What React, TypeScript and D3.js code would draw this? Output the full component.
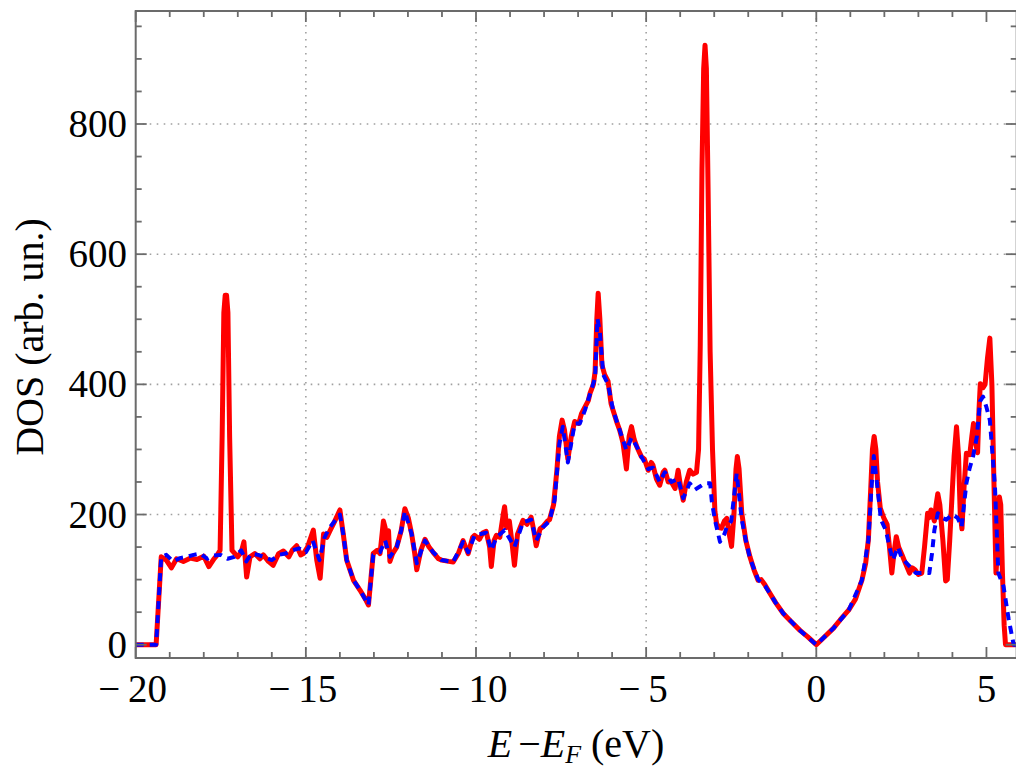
import React from "react";
import * as d3 from "d3";

// Red (solid) DOS curve
const redE = [
  -20, -19.4, -19.25, -19.1, -18.95, -18.8, -18.6, -18.4, -18.2, -18.0, -17.85, -17.7, -17.6, -17.52,
  -17.46, -17.41, -17.37, -17.33, -17.29, -17.24, -17.17, -17.0, -16.9, -16.82, -16.74, -16.64, -16.5,
  -16.35, -16.25, -16.1, -15.96, -15.8, -15.66, -15.5, -15.4, -15.27, -15.15, -15.07, -14.95, -14.78,
  -14.68, -14.58, -14.48, -14.38, -14.29, -14.15, -14.0, -13.9, -13.8, -13.6, -13.41, -13.25, -13.16,
  -13.02, -12.9, -12.82, -12.72, -12.67, -12.62, -12.57, -12.53, -12.45, -12.33, -12.2, -12.09, -11.99,
  -11.89, -11.8, -11.74, -11.62, -11.5, -11.38, -11.26, -11.1, -11.01, -10.8, -10.67, -10.52, -10.38,
  -10.23, -10.1, -10.04, -9.9, -9.8, -9.7, -9.6, -9.55, -9.47, -9.4, -9.3, -9.2, -9.16, -9.1, -9.02,
  -8.95, -8.87, -8.78, -8.62, -8.5, -8.38, -8.3, -8.23, -8.12, -8.04, -7.9, -7.84, -7.72, -7.62, -7.55,
  -7.47, -7.4, -7.3, -7.2, -7.1, -6.98, -6.9, -6.8, -6.7, -6.65, -6.55, -6.5, -6.45, -6.41, -6.36, -6.3,
  -6.22, -6.12, -6.03, -5.97, -5.85, -5.78, -5.68, -5.58, -5.5, -5.43, -5.35, -5.28, -5.14, -5.05,
  -4.94, -4.85, -4.8, -4.7, -4.6, -4.5, -4.45, -4.35, -4.26, -4.15, -4.06, -3.98, -3.91, -3.82, -3.72,
  -3.62, -3.52, -3.46, -3.41, -3.36, -3.31, -3.27, -3.23, -3.18, -3.12, -3.05, -2.98, -2.93, -2.86,
  -2.79, -2.7, -2.63, -2.56, -2.49, -2.42, -2.36, -2.32, -2.27, -2.19, -2.07, -1.95, -1.83, -1.71,
  -1.62, -1.51, -1.35, -1.2, -0.97, -0.75, -0.48, -0.25, 0, 0.2, 0.5, 0.7, 0.95, 1.15, 1.34, 1.45,
  1.53, 1.6, 1.65, 1.7, 1.75, 1.8, 1.88, 1.98, 2.08, 2.15, 2.22, 2.28, 2.35, 2.42, 2.52, 2.62, 2.74,
  2.82, 2.9, 3.0, 3.1, 3.18, 3.27, 3.32, 3.37, 3.47, 3.52, 3.57, 3.63, 3.72, 3.8, 3.85, 3.92, 3.98,
  4.05, 4.12, 4.18, 4.23, 4.28, 4.34, 4.41, 4.51, 4.57, 4.62, 4.68, 4.74, 4.78, 4.82, 4.9, 4.96, 5.03,
  5.1, 5.16, 5.22, 5.28, 5.33, 5.38, 5.42, 5.47, 5.52, 5.56, 5.9,
];
const redDOS = [
  0, 0, 135, 130, 118, 132, 128, 133, 131, 136, 120, 132, 138, 145,
  320, 510, 537, 537, 510, 320, 145, 135, 142, 158, 104, 135, 140,
  132, 138, 128, 122, 140, 144, 135, 145, 152, 138, 140, 150, 176,
  130, 102, 170, 165, 175, 190, 207, 170, 130, 99, 84, 70, 61,
  140, 145, 140, 190, 180, 150, 175, 128, 140, 150, 175, 209, 195,
  170, 140, 115, 145, 162, 150, 142, 132, 130, 128, 127, 140, 160,
  140, 165, 168, 162, 172, 174, 150, 120, 160, 168, 165, 200, 212, 180, 190,
  160, 122, 170, 191, 185, 196, 175, 152, 178, 181, 190, 192, 215, 270, 320,
  345, 330, 285, 320, 343, 340, 355, 365, 375, 386, 400, 420, 500, 540, 500, 430,
  415, 405, 370, 360, 340, 330, 310, 270, 320, 335, 315, 305, 289, 285,
  268, 280, 276, 255, 245, 265, 268, 250, 250, 240, 268, 240, 222, 250, 268,
  262, 265, 300, 460, 730, 885, 921, 885, 700, 450, 300, 205, 186, 180,
  179, 190, 194, 170, 151, 200, 270, 289, 270, 202, 160, 135, 115, 99,
  100, 92, 78, 65, 48, 36, 22, 12, 0, 10, 25, 38, 53, 70, 99, 125,
  161, 240, 300, 320, 300, 250, 210, 195, 185, 150, 110, 140, 166, 150, 138, 125, 110,
  118, 115, 108, 110, 150, 202, 195, 207, 190, 215, 232, 215, 160, 98, 100, 160, 220,
  290, 335, 290, 200, 178, 240, 294, 292, 320, 340, 310, 295, 360, 401, 395, 400, 440,
  471, 400, 250, 110, 150, 227, 215, 110, 30, 0, 0,
];

// Blue (dashed) DOS curve
const blueE = [
  -20, -19.4, -19.25, -19.1, -18.9, -18.7, -18.5, -18.3, -18.1, -17.9, -17.7, -17.5, -17.3, -17.1,
  -16.9, -16.75, -16.6, -16.4, -16.2, -16.0, -15.8, -15.6, -15.4, -15.2, -15.0, -14.8, -14.6, -14.45,
  -14.3, -14.15, -14.0, -13.9, -13.8, -13.6, -13.41, -13.16, -13.02, -12.82, -12.67, -12.53, -12.33,
  -12.2, -12.09, -11.89, -11.74, -11.5, -11.26, -11.01, -10.67, -10.38, -10.23, -10.04, -9.7, -9.55,
  -9.4, -9.16, -8.87, -8.62, -8.38, -8.23, -8.04, -7.84, -7.69, -7.55, -7.45, -7.3, -7.1, -6.95, -6.8,
  -6.65, -6.5, -6.43, -6.36, -6.26, -6.12, -5.97, -5.78, -5.58, -5.43, -5.28, -5.14, -4.94, -4.8, -4.6,
  -4.45, -4.26, -4.06, -3.91, -3.72, -3.57, -3.42, -3.27, -3.12, -3.07, -2.98, -2.83, -2.7, -2.63,
  -2.5, -2.34, -2.19, -2.07, -1.95, -1.71, -1.5, -1.2, -0.97, -0.48, 0, 0.5, 0.95, 1.34, 1.53, 1.62,
  1.69, 1.78, 1.9, 2.05, 2.15, 2.25, 2.4, 2.5, 2.64, 2.93, 3.32, 3.4, 3.47, 3.57, 3.7, 3.82, 4.0, 4.15,
  4.27, 4.41, 4.5, 4.61, 4.72, 4.81, 4.9, 5.0, 5.1, 5.25, 5.35, 5.5, 5.65, 5.8, 5.9,
];
const blueDOS = [
  0, 0, 135, 138, 128, 133, 135, 138, 140, 132, 137, 138, 132, 135,
  145, 128, 140, 138, 134, 130, 138, 140, 145, 148, 142, 160, 130, 165,
  180, 190, 200, 170, 130, 99, 84, 61, 138, 142, 160, 135, 150,
  175, 205, 170, 125, 160, 142, 130, 127, 158, 142, 168, 172, 145,
  165, 176, 150, 188, 192, 160, 180, 190, 222, 309, 335, 280, 340, 340, 360,
  385, 410, 501, 480, 415, 400, 360, 330, 299, 318, 305, 289, 270, 272, 250,
  265, 250, 255, 225, 248, 238, 243, 248, 248, 220, 192, 158, 170, 181,
  190, 263, 192, 160, 133, 100, 90, 65, 48, 22, 0, 25, 53, 99, 160, 240,
  290, 250, 192, 175, 150, 130, 150, 135, 126, 110, 110, 140, 176, 202, 195, 192, 200, 195,
  181, 248, 270, 290, 320, 374, 381, 365, 345, 243, 110, 90, 40, 0, 0,
];

const xMajor = [-20, -15, -10, -5, 0, 5];
const xGrid = [-15, -10, -5, 0];
const yMajor = [0, 200, 400, 600, 800];
const yGrid = [200, 400, 600, 800];

const W = 1016;
const H = 769;
const L = 135.7;
const R = 1016.7;
const T = 11;
const B = 658;

export default function App() {
  const x = d3.scaleLinear().domain([-20, 5.9]).range([L, L + (5.9 + 20) * 34.03]);
  const y = d3.scaleLinear().domain([0, 800]).range([644.7, 124]);

  const xMinor = d3.range(-20, 6.01, 1).filter((v) => !xMajor.includes(v));
  const yMinor = d3.range(0, 951, 50).filter((v) => !yMajor.includes(v));

  const red = redE.map((e, i) => [e, redDOS[i]] as [number, number]);
  const blue = blueE.map((e, i) => [e, blueDOS[i]] as [number, number]);
  const line = d3
    .line<[number, number]>()
    .x((d) => x(d[0]))
    .y((d) => y(d[1]));

  const frameColor = "#6b6b6b";
  const font = "'Liberation Serif', 'Times New Roman', serif";

  return (
    <svg
      width={W}
      height={H}
      style={{ position: "absolute", left: 0, top: 0, background: "#fff" }}
      fontFamily={font}
    >
      <defs>
        <clipPath id="plotclip">
          <rect x={L} y={T} width={R - L} height={B - T} />
        </clipPath>
      </defs>
      {/* grid */}
      <g stroke="#a0a0a0" strokeWidth={1.6} strokeDasharray="1.6,5.4" fill="none">
        {xGrid.map((v) => (
          <line key={"gx" + v} x1={x(v)} x2={x(v)} y1={T} y2={B} />
        ))}
        {yGrid.map((v) => (
          <line key={"gy" + v} x1={L} x2={R} y1={y(v)} y2={y(v)} />
        ))}
      </g>
      {/* curves */}
      <g clipPath="url(#plotclip)" fill="none" strokeLinejoin="round" strokeLinecap="round">
        <path d={line(red) || ""} stroke="#ff0000" strokeWidth={5} />
        <path
          d={line(blue) || ""}
          stroke="#0000ff"
          strokeWidth={4}
          strokeDasharray="8,6"
          strokeLinecap="butt"
        />
      </g>
      {/* frame */}
      <rect x={L} y={T} width={R - L} height={B - T} fill="none" stroke={frameColor} strokeWidth={2} />
      <g stroke={frameColor} strokeWidth={1.8}>
        {xMajor.map((v) => (
          <g key={"xM" + v}>
            <line x1={x(v)} x2={x(v)} y1={B} y2={B - 11} />
            <line x1={x(v)} x2={x(v)} y1={T} y2={T + 11} />
          </g>
        ))}
        {xMinor.map((v) => (
          <g key={"xm" + v}>
            <line x1={x(v)} x2={x(v)} y1={B} y2={B - 6} />
            <line x1={x(v)} x2={x(v)} y1={T} y2={T + 6} />
          </g>
        ))}
        {yMajor.map((v) => (
          <g key={"yM" + v}>
            <line x1={L} x2={L + 11} y1={y(v)} y2={y(v)} />
            <line x1={R} x2={R - 11} y1={y(v)} y2={y(v)} />
          </g>
        ))}
        {yMinor.map((v) => (
          <g key={"ym" + v}>
            <line x1={L} x2={L + 6} y1={y(v)} y2={y(v)} />
            <line x1={R} x2={R - 6} y1={y(v)} y2={y(v)} />
          </g>
        ))}
      </g>
      {/* tick labels */}
      <g fontSize={39} fill="#000">
        {xMajor.map((v) => (
          <text key={"xl" + v} x={x(v) - (v < 0 ? 3 : 0)} y={702} textAnchor="middle">
            {v < 0 ? "\u2212" + "\u2009" + Math.abs(v) : String(v)}
          </text>
        ))}
        {yMajor.map((v) => (
          <text key={"yl" + v} x={127} y={y(v) + 13} textAnchor="end">
            {v}
          </text>
        ))}
      </g>
      {/* axis labels */}
      <text
        fontSize={40}
        textAnchor="middle"
        transform={`translate(43,337) rotate(-90)`}
        fill="#000"
      >
        DOS (arb. un.)
      </text>
      <text x={576} y={757} fontSize={40} textAnchor="middle" fill="#000">
        <tspan fontStyle="italic">E</tspan>
        <tspan dx={6}>{"\u2212"}</tspan>
        <tspan fontStyle="italic">E</tspan>
        <tspan fontStyle="italic" fontSize={26} dy={6}>F</tspan>
        <tspan dy={-6}>{" (eV)"}</tspan>
      </text>
    </svg>
  );
}
